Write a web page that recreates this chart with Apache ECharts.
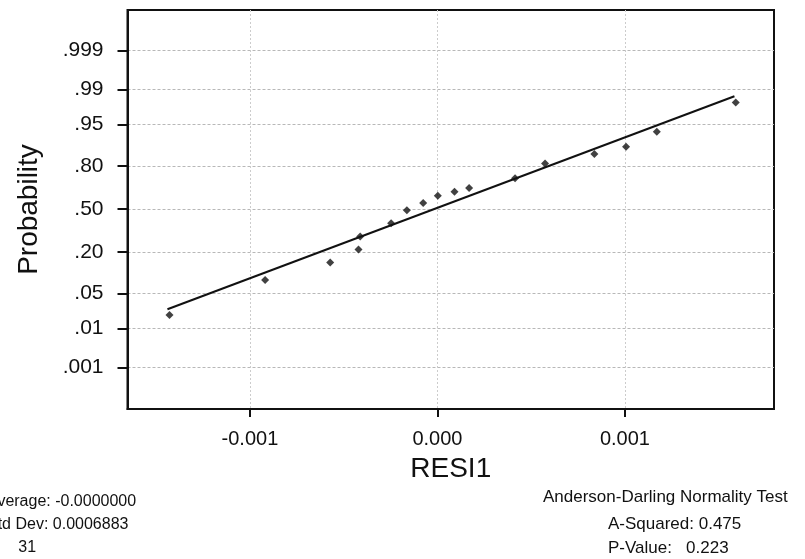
<!DOCTYPE html>
<html>
<head>
<meta charset="utf-8">
<script src="https://cdn.jsdelivr.net/npm/echarts@6/dist/echarts.min.js"></script>
<style>
html, body { margin: 0; padding: 0; background: #fff; }
#chartmain { width: 805px; height: 559px; }
</style>
</head>
<body>
<div id="chartmain"></div>
<script>
// residuals (x) and their plotting probabilities (y)
var resid = [-0.001429, -0.000919, -0.000572, -0.000421, -0.000412, -0.000247, -0.000163, -0.000076,
             0.000002, 0.000091, 0.000169, 0.000414, 0.000574, 0.000837, 0.001006, 0.001170, 0.001591];
var prob = [0.0194, 0.083, 0.148, 0.215, 0.296, 0.390, 0.490, 0.547,
            0.602, 0.632, 0.659, 0.725, 0.813, 0.858, 0.888, 0.934, 0.981];
// fitted normal line ends
var fitX = [-0.001440, 0.001584];
var fitP = [0.0253, 0.986];
// probability axis ticks
var tickProbs = [0.001, 0.01, 0.05, 0.20, 0.50, 0.80, 0.95, 0.99, 0.999];
var tickLabels = ['.001', '.01', '.05', '.20', '.50', '.80', '.95', '.99', '.999'];
var xTicks = [-0.001, 0, 0.001];

// inverse normal cdf (Acklam), used as the probability scale
function probit(p) {
    var a = [-3.969683028665376e+01, 2.209460984245205e+02, -2.759285104469687e+02, 1.383577518672690e+02, -3.066479806614716e+01, 2.506628277459239e+00];
    var b = [-5.447609879822406e+01, 1.615858368580409e+02, -1.556989798598866e+02, 6.680131188771972e+01, -1.328068155288572e+01];
    var c = [-7.784894002430293e-03, -3.223964580411365e-01, -2.400758277161838e+00, -2.549732539343734e+00, 4.374664141464968e+00, 2.938163982698783e+00];
    var d = [7.784695709041462e-03, 3.224671290700398e-01, 2.445134137142996e+00, 3.754408661907416e+00];
    var q, r;
    if (p < 0.02425) {
        q = Math.sqrt(-2 * Math.log(p));
        return (((((c[0]*q+c[1])*q+c[2])*q+c[3])*q+c[4])*q+c[5]) / ((((d[0]*q+d[1])*q+d[2])*q+d[3])*q+1);
    }
    if (p > 1 - 0.02425) {
        q = Math.sqrt(-2 * Math.log(1 - p));
        return -(((((c[0]*q+c[1])*q+c[2])*q+c[3])*q+c[4])*q+c[5]) / ((((d[0]*q+d[1])*q+d[2])*q+d[3])*q+1);
    }
    q = p - 0.5; r = q * q;
    return (((((a[0]*r+a[1])*r+a[2])*r+a[3])*r+a[4])*r+a[5])*q / (((((b[0]*r+b[1])*r+b[2])*r+b[3])*r+b[4])*r+1);
}

var tickZ = tickProbs.map(probit);
var labelOf = {};
tickZ.forEach(function (z, i) { labelOf[z.toFixed(6)] = tickLabels[i]; });

var points = resid.map(function (x, i) { return [x, probit(prob[i])]; });
var fitLine = fitX.map(function (x, i) { return [x, probit(fitP[i])]; });

var font = 'Liberation Sans, Arial, sans-serif';

window.onload = function () {
    var option = {
        animation: false,
        backgroundColor: '#fff',
        grid: {
            left: 127.5, right: 31, top: 10, bottom: 150,
            show: true, borderColor: '#111', borderWidth: 2, backgroundColor: 'transparent'
        },
        xAxis: {
            type: 'value',
            min: -0.001653, max: 0.001795,
            name: 'RESI1',
            nameLocation: 'middle',
            nameGap: 46,
            nameTextStyle: { fontSize: 28, color: '#111', fontFamily: font },
            axisLine: { show: true, onZero: false, lineStyle: { color: '#111', width: 2 } },
            axisTick: { show: true, length: 8, lineStyle: { color: '#111', width: 2 }, customValues: xTicks },
            axisLabel: {
                customValues: xTicks, margin: 20, fontSize: 20, color: '#111', fontFamily: font,
                formatter: function (v) { return v.toFixed(3); }
            },
            splitLine: { show: true, lineStyle: { color: '#cccccc', type: [2, 2], width: 1 } }
        },
        yAxis: {
            type: 'value',
            min: -3.9, max: 3.88,
            name: 'Probability',
            nameLocation: 'middle',
            nameGap: 84,
            nameRotate: 90,
            nameTextStyle: { fontSize: 28, color: '#111', fontFamily: font },
            axisLine: { show: true, onZero: false, lineStyle: { color: '#111', width: 2 } },
            axisTick: { show: true, length: 10, lineStyle: { color: '#111', width: 2 }, customValues: tickZ },
            axisLabel: {
                customValues: tickZ, margin: 24, fontSize: 21, color: '#111', fontFamily: font,
                formatter: function (v) { return labelOf[v.toFixed(6)] || ''; }
            },
            splitLine: { show: true, lineStyle: { color: '#b8b8b8', type: [3, 2], width: 1 } }
        },
        series: [
            {
                type: 'line',
                data: fitLine,
                symbol: 'none',
                lineStyle: { color: '#111', width: 2 },
                z: 3
            },
            {
                type: 'scatter',
                data: points,
                symbol: 'diamond',
                symbolSize: 8,
                itemStyle: { color: '#111' },
                z: 4
            }
        ],
        graphic: [
            { type: 'text', left: -13, top: 494, style: { text: 'Average: -0.0000000', fontSize: 16, fill: '#111', fontFamily: font } },
            { type: 'text', left: -13, top: 517, style: { text: 'Std Dev: 0.0006883', fontSize: 16, fill: '#111', fontFamily: font } },
            { type: 'text', left: -20, top: 540, style: { text: 'N:     31', fontSize: 16, fill: '#111', fontFamily: font } },
            { type: 'text', left: 543, top: 489, style: { text: 'Anderson-Darling Normality Test', fontSize: 17, fill: '#111', fontFamily: font } },
            { type: 'text', left: 608, top: 516, style: { text: 'A-Squared: 0.475', fontSize: 17, fill: '#111', fontFamily: font } },
            { type: 'text', left: 608, top: 540, style: { text: 'P-Value:   0.223', fontSize: 17, fill: '#111', fontFamily: font } }
        ]
    };
    var myChart = echarts.init(document.getElementById('chartmain'));
    myChart.setOption(option);
};
</script>
</body>
</html>
